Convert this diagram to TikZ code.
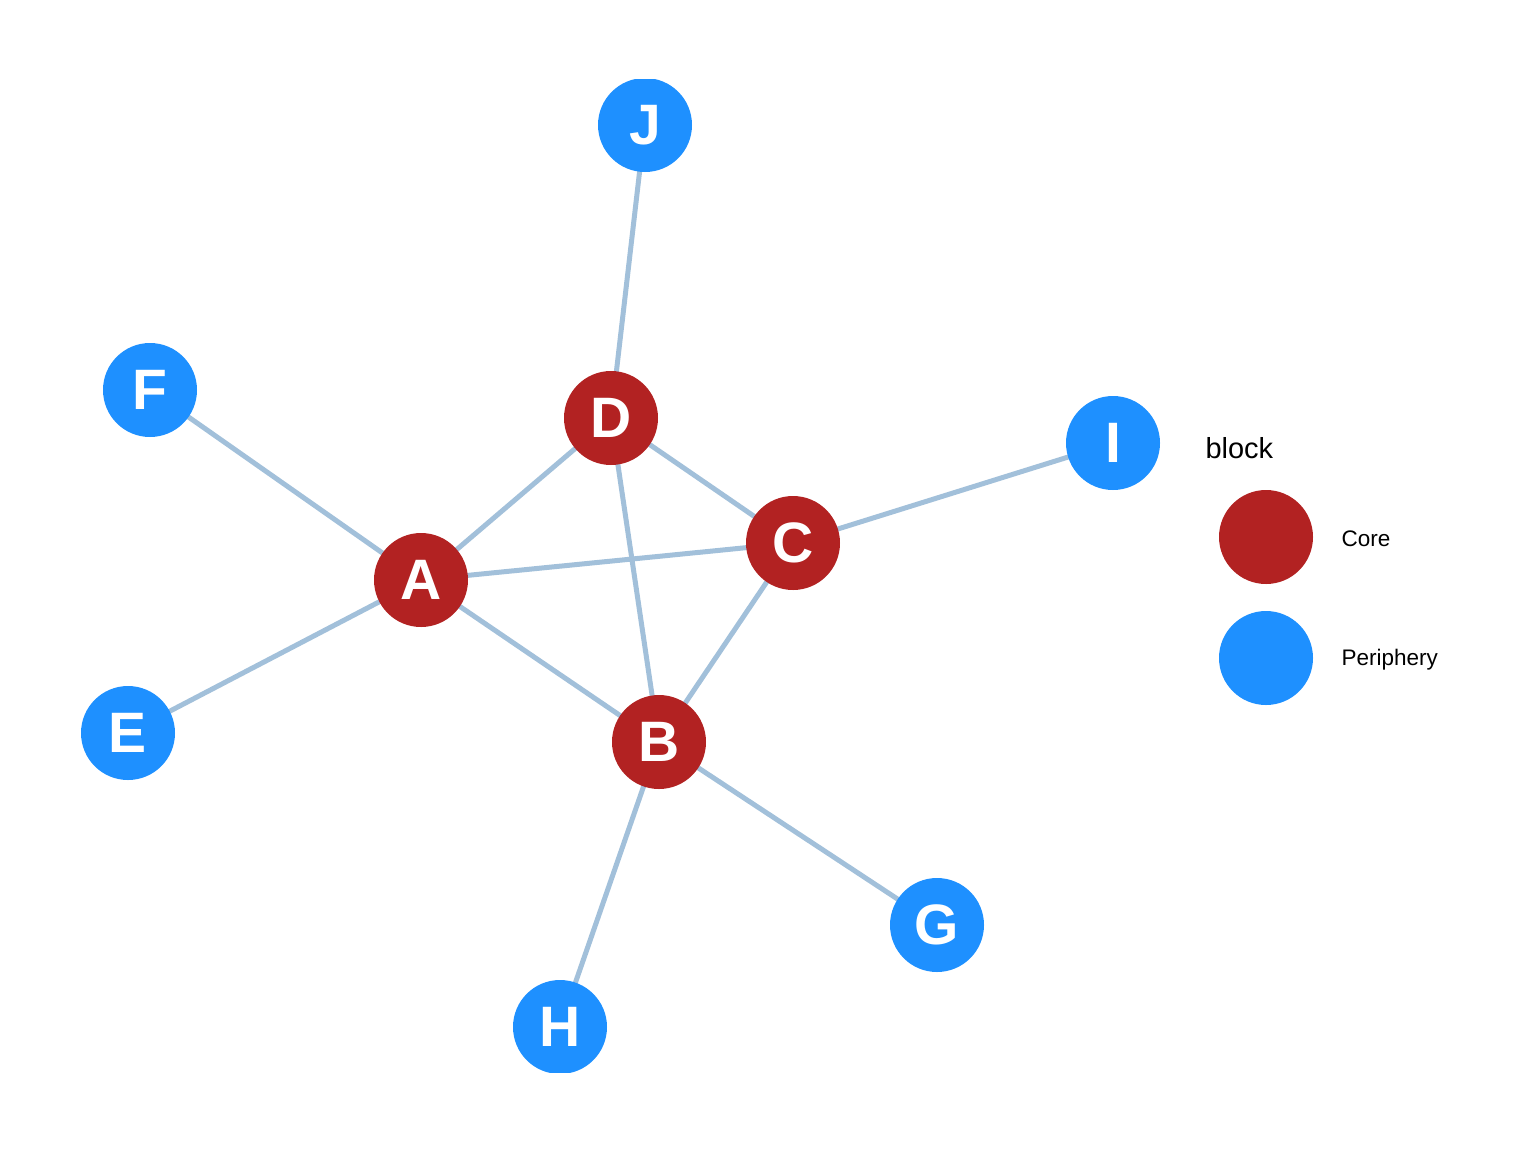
\documentclass[tikz,border=0pt]{standalone}
\usepackage{fontspec}
\setmainfont{Liberation Sans}
\usetikzlibrary{backgrounds}
\definecolor{corered}{RGB}{178,34,34}
\definecolor{periblue}{RGB}{30,144,255}
\definecolor{edgeblue}{RGB}{162,192,218}
\begin{document}
\begin{tikzpicture}[x=1pt,y=-1pt,
  vtx/.style={circle,minimum size=94pt,inner sep=0pt,text=white,font=\fontsize{57}{57}\selectfont\bfseries},
  core/.style={vtx,fill=corered},
  peri/.style={vtx,fill=periblue},
  edge/.style={draw=edgeblue,line width=5pt},
  legdot/.style={circle,minimum size=94pt,inner sep=0pt},
  legtxt/.style={anchor=west,font=\fontsize{22.5}{24}\selectfont}]
\useasboundingbox (0,0) rectangle (1536,1152);
\begin{scope}
\clip (0,79) rectangle (1190,1072);
\node[peri] (J) at (645,125) {J};
\node[peri] (F) at (150,390) {F};
\node[core] (D) at (611,418) {D};
\node[peri] (I) at (1113,443) {I};
\node[core] (C) at (793,543) {C};
\node[core] (A) at (421,580) {A};
\node[peri] (E) at (128,733) {E};
\node[core] (B) at (659,742) {B};
\node[peri] (G) at (937,925) {G};
\node[peri] (H) at (560,1027) {H};
\begin{scope}[on background layer]
\clip (0,79) rectangle (1190,1072);
\foreach \u/\v in {J/D,F/A,D/A,D/C,D/B,I/C,A/C,A/E,A/B,C/B,B/G,B/H}
  \draw[edge] (\u.center) -- (\v.center);
\end{scope}
\end{scope}
\node[anchor=base west,font=\fontsize{29}{30}\selectfont] (legtitle) at (1202,458) {block};
\node[legdot,fill=corered] (lcore) at (1266,537) {};
\node[legtxt] (lcoretxt) at (1338,539) {Core};
\node[legdot,fill=periblue] (lperi) at (1266,658) {};
\node[legtxt] (lperitxt) at (1338,660) {Periphery};
\end{tikzpicture}
\end{document}
